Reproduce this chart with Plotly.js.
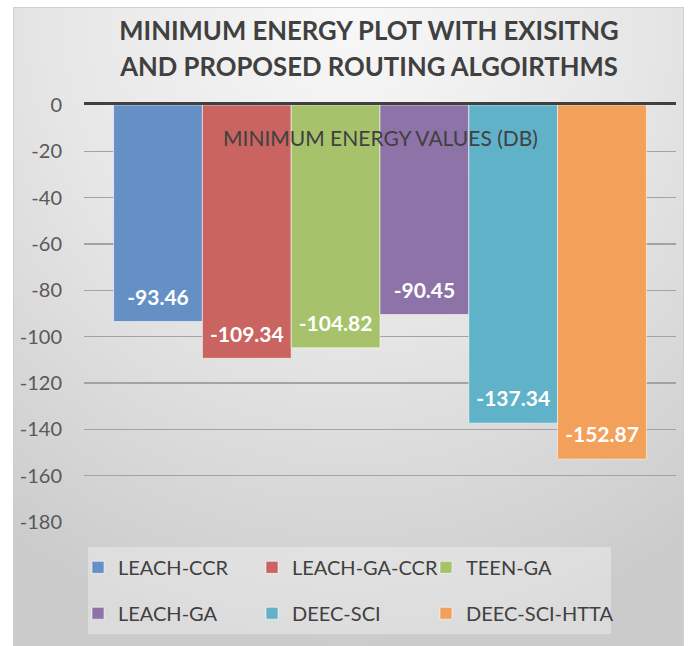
<!DOCTYPE html>
<html>
<head>
<meta charset="utf-8">
<script src="https://cdn.plot.ly/plotly-3.0.1.min.js"></script>
<style>
  html, body { margin: 0; padding: 0; background: #ffffff; width: 690px; height: 646px; overflow: hidden; }
  #bgbox { position: absolute; left: 13px; top: 7px; width: 669px; height: 645px;
           border: 1px solid #cfcfcf;
           background: radial-gradient(ellipse 90% 100% at 50% 0%, #f8f8f8 0%, #e6e6e6 50%, #cbcbcb 100%); }
  #legbox { position: absolute; left: 88px; top: 547px; width: 523px; height: 87px;
            background: rgba(255,255,255,0.32); }
  #chart { position: absolute; left: 0; top: 0; width: 690px; height: 646px; }
</style>
</head>
<body>
<div id="bgbox"></div>
<div id="legbox"></div>
<div id="chart"></div>
<script>
// ---- data ----
var categories = ["MINIMUM ENERGY VALUES (DB)"];
var seriesNames = ["LEACH-CCR", "LEACH-GA-CCR", "TEEN-GA", "LEACH-GA", "DEEC-SCI", "DEEC-SCI-HTTA"];
var seriesValues = [-93.46, -109.34, -104.82, -90.45, -137.34, -152.87];
var seriesColors = ["#6590c6", "#c96461", "#a6c36b", "#8e73a9", "#60b2c9", "#f3a05b"];
var tickVals = [0, -20, -40, -60, -80, -100, -120, -140, -160, -180];
var tickText = ["0", "-20", "-40", "-60", "-80", "-100", "-120", "-140", "-160", "-180"];
var titleLines = ["MINIMUM ENERGY PLOT WITH EXISITNG", "AND PROPOSED ROUTING ALGOIRTHMS"];

var FONT = "Lato, 'Open Sans', sans-serif";

// legend grid placement (3 columns x 2 rows), in plot-area paper units
var legendColX = [-0.0101, 0.2838, 0.5777];
var legendRowY = [-0.062, -0.172];

var legendKeys = seriesNames.map(function (n, i) { return i === 0 ? "legend" : "legend" + (i + 1); });

var traces = seriesNames.map(function (name, i) {
  return {
    type: "bar",
    name: name,
    x: categories,
    y: [seriesValues[i]],
    text: [seriesValues[i].toFixed(2)],
    texttemplate: "<span style='font-size:21px'>%{text}</span><br>&nbsp;",
    textposition: "inside",
    insidetextanchor: "end",
    textangle: 0,
    textfont: { family: FONT, size: 9, color: "#ffffff", weight: "bold" },
    marker: { color: seriesColors[i], line: { color: "rgba(255,255,255,0.55)", width: 1 } },
    legend: legendKeys[i],
    hoverinfo: "none"
  };
});

var layout = {
  width: 690,
  height: 646,
  paper_bgcolor: "rgba(0,0,0,0)",
  plot_bgcolor: "rgba(0,0,0,0)",
  margin: { l: 84, r: 14, t: 105, b: 124, pad: 0 },
  barmode: "group",
  bargap: 0.1,
  bargroupgap: 0,
  showlegend: true,
  title: {
    text: "<span style='font-size:25.7px'>" + titleLines[0] + "</span><br><span style='font-size:25.7px'>" + titleLines[1] + "</span>",
    font: { family: FONT, size: 27.7, color: "#404040", weight: "bold" },
    x: 369 / 690,
    xanchor: "center",
    xref: "container",
    y: 1 - 40 / 646,
    yanchor: "top",
    yref: "container"
  },
  xaxis: {
    type: "category",
    side: "top",
    showticklabels: false,
    showgrid: false,
    zeroline: false,
    showline: true,
    linecolor: "#404040",
    linewidth: 3,
    ticks: ""
  },
  yaxis: {
    range: [-180, 0],
    tickmode: "array",
    tickvals: tickVals,
    ticktext: tickText,
    showgrid: true,
    gridcolor: "#a3a3a3",
    gridwidth: 1.5,
    zeroline: false,
    showline: false,
    ticks: "",
    ticklabelstandoff: 21,
    tickfont: { family: FONT, size: 20, color: "#595959" }
  },
  annotations: [{
    text: categories[0],
    x: categories[0],
    xref: "x",
    y: (522 - 137) / 417,
    yref: "paper",
    yanchor: "middle",
    xanchor: "center",
    showarrow: false,
    font: { family: FONT, size: 21, color: "#404040" }
  }]
};

legendKeys.forEach(function (key, i) {
  layout[key] = {
    orientation: "h",
    xanchor: "left",
    yanchor: "top",
    x: legendColX[i % 3],
    y: legendRowY[Math.floor(i / 3)],
    bgcolor: "rgba(0,0,0,0)",
    borderwidth: 0,
    font: { family: FONT, size: 20, color: "#404040" }
  };
});

Plotly.newPlot("chart", traces, layout, { displayModeBar: false, staticPlot: true });
</script>
</body>
</html>
